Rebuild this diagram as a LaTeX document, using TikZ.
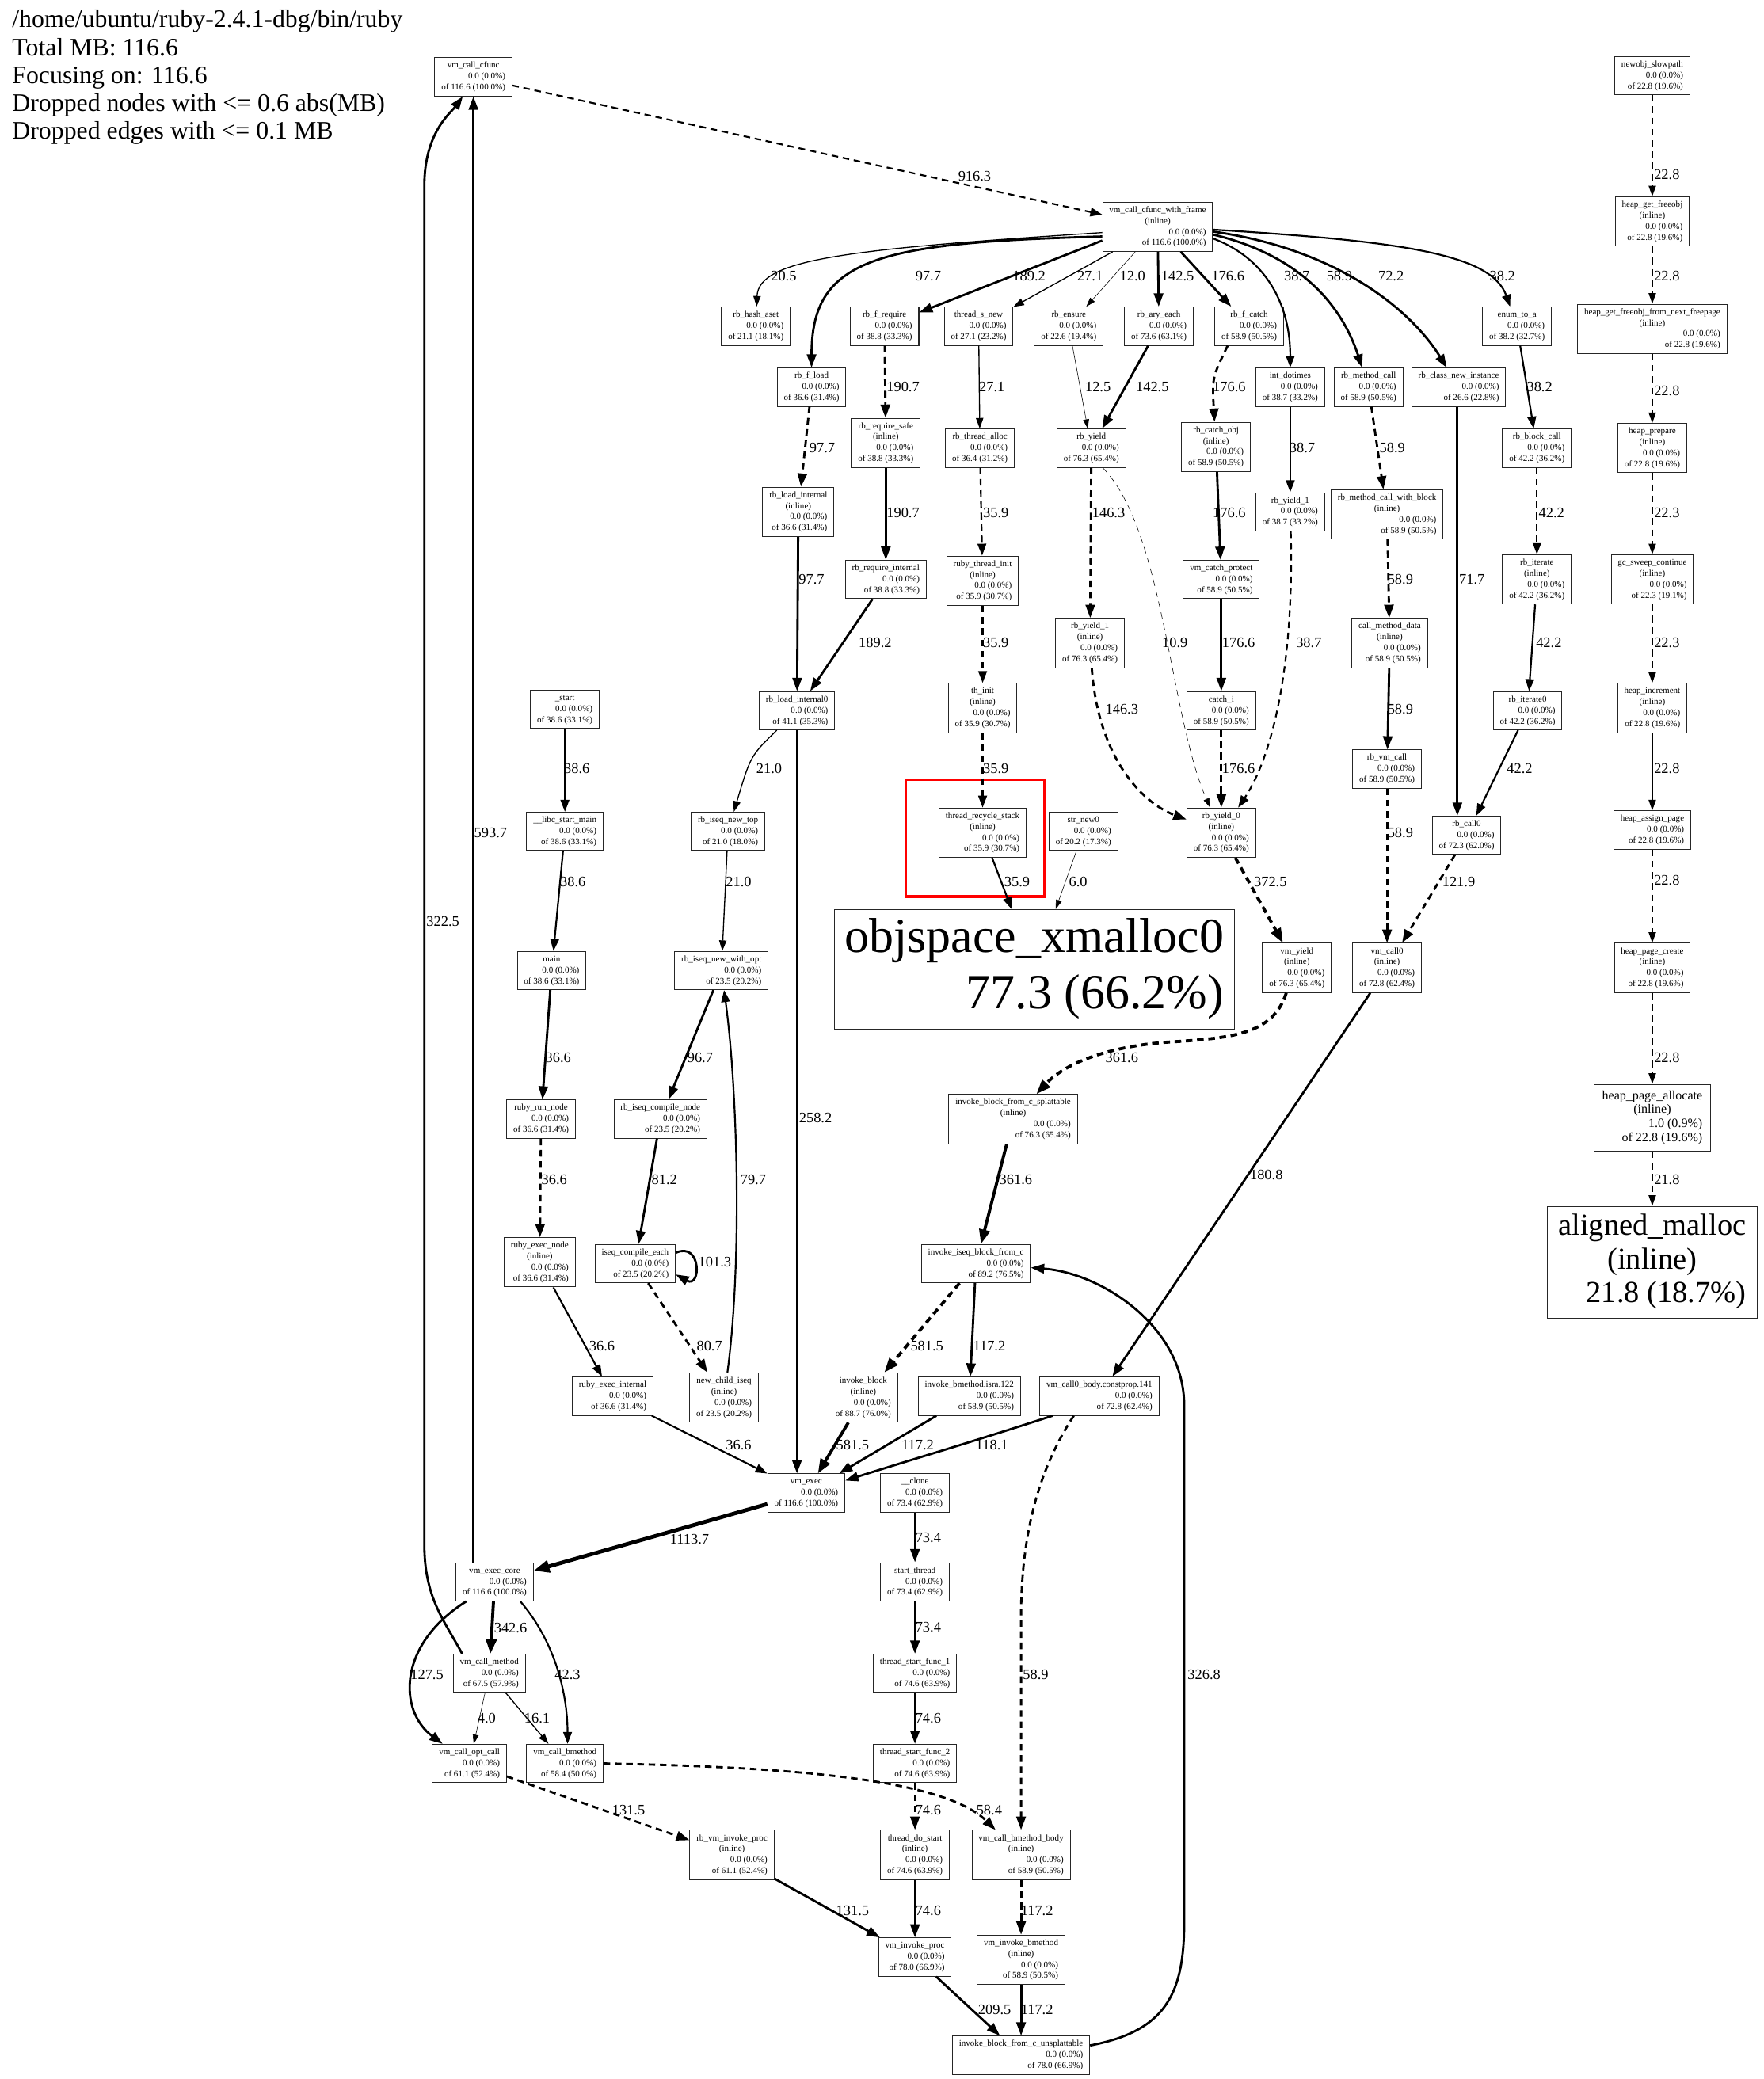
\documentclass[tikz,border=0pt]{standalone}
\usepackage{fontspec}
\setmainfont{Liberation Serif}
\usetikzlibrary{arrows.meta,calc}
\newcommand{\ppn}[2]{\begin{tabular}{@{}r@{}}\multicolumn{1}{@{}c@{}}{#1}\\0.0 (0.0\%)\\#2\end{tabular}}
\newcommand{\ppi}[2]{\begin{tabular}{@{}r@{}}\multicolumn{1}{@{}c@{}}{#1}\\\multicolumn{1}{@{}c@{}}{(inline)}\\0.0 (0.0\%)\\#2\end{tabular}}
\begin{document}
\begin{tikzpicture}[x=1pt,y=-1pt,
 fn/.style={draw=black!85, line width=0.6pt, inner xsep=5pt, inner ysep=2pt, font=\fontsize{6.6}{8.3}\selectfont},
 lb/.style={font=\fontsize{11}{12}\selectfont, inner sep=0pt},
 e0/.style={line width=0.35pt, -{Triangle[length=7pt,width=4.5pt]}},
 e1/.style={line width=0.8pt, -{Triangle[length=8pt,width=5.5pt]}},
 e2/.style={line width=1.3pt, -{Triangle[length=9pt,width=6.5pt]}},
 e3/.style={line width=1.7pt, -{Triangle[length=10pt,width=7pt]}},
 e4/.style={line width=2.3pt, -{Triangle[length=11pt,width=8pt]}},
 dsh/.style={dash pattern=on 5pt off 3.5pt}]
\fill[white] (0,0) rectangle (1330,1568);
\useasboundingbox (0,0) rectangle (1330,1568);

\node[anchor=north west, align=left, inner sep=0pt, font=\fontsize{19}{21}\selectfont] (hdr) at (9,7.5) {/home/ubuntu/ruby-2.4.1-dbg/bin/ruby\\Total MB: 116.6\\Focusing on: 116.6\\Dropped nodes with <= 0.6 abs(MB)\\Dropped edges with <= 0.1 MB};

% nodes
\node[fn] (cfunc) at (357,58) {\ppn{vm\_call\_cfunc}{of 116.6 (100.0\%)}};
\node[fn] (newobj) at (1246,57) {\ppn{newobj\_slowpath}{of 22.8 (19.6\%)}};
\node[fn] (vcwf) at (873,171) {\ppi{vm\_call\_cfunc\_with\_frame}{of 116.6 (100.0\%)}};
\node[fn] (hgf) at (1246,167) {\ppi{heap\_get\_freeobj}{of 22.8 (19.6\%)}};
\node[fn] (hash) at (570,246) {\ppn{rb\_hash\_aset}{of 21.1 (18.1\%)}};
\node[fn] (freq) at (667,246) {\ppn{rb\_f\_require}{of 38.8 (33.3\%)}};
\node[fn] (tsnew) at (738,246) {\ppn{thread\_s\_new}{of 27.1 (23.2\%)}};
\node[fn] (ensure) at (806,246) {\ppn{rb\_ensure}{of 22.6 (19.4\%)}};
\node[fn] (aryeach) at (874,246) {\ppn{rb\_ary\_each}{of 73.6 (63.1\%)}};
\node[fn] (fcatch) at (942,246) {\ppn{rb\_f\_catch}{of 58.9 (50.5\%)}};
\node[fn] (enumtoa) at (1144,246) {\ppn{enum\_to\_a}{of 38.2 (32.7\%)}};
\node[fn] (hgfnf) at (1246,248) {\ppi{heap\_get\_freeobj\_from\_next\_freepage}{of 22.8 (19.6\%)}};
\node[fn] (fload) at (612,292) {\ppn{rb\_f\_load}{of 36.6 (31.4\%)}};
\node[fn] (dotimes) at (973,292) {\ppn{int\_dotimes}{of 38.7 (33.2\%)}};
\node[fn] (mcall) at (1032,292) {\ppn{rb\_method\_call}{of 58.9 (50.5\%)}};
\node[fn] (classnew) at (1100,292) {\ppn{rb\_class\_new\_instance}{of 26.6 (22.8\%)}};
\node[fn] (reqsafe) at (668,334) {\ppi{rb\_require\_safe}{of 38.8 (33.3\%)}};
\node[fn] (talloc) at (739,338) {\ppn{rb\_thread\_alloc}{of 36.4 (31.2\%)}};
\node[fn] (yield) at (823,338) {\ppn{rb\_yield}{of 76.3 (65.4\%)}};
\node[fn] (catchobj) at (917,337) {\ppi{rb\_catch\_obj}{of 58.9 (50.5\%)}};
\node[fn] (blockcall) at (1159,338) {\ppn{rb\_block\_call}{of 42.2 (36.2\%)}};
\node[fn] (hprep) at (1246,338) {\ppi{heap\_prepare}{of 22.8 (19.6\%)}};
\node[fn] (loadint) at (602,386) {\ppi{rb\_load\_internal}{of 36.6 (31.4\%)}};
\node[fn] (yield1a) at (973,386) {\ppn{rb\_yield\_1}{of 38.7 (33.2\%)}};
\node[fn] (mcwb) at (1046,388) {\ppi{rb\_method\_call\_with\_block}{of 58.9 (50.5\%)}};
\node[fn] (reqint) at (668,437) {\ppn{rb\_require\_internal}{of 38.8 (33.3\%)}};
\node[fn] (tinit) at (741,438) {\ppi{ruby\_thread\_init}{of 35.9 (30.7\%)}};
\node[fn] (catchprot) at (921,437) {\ppn{vm\_catch\_protect}{of 58.9 (50.5\%)}};
\node[fn] (iterate) at (1159,437) {\ppi{rb\_iterate}{of 42.2 (36.2\%)}};
\node[fn] (gcsweep) at (1246,437) {\ppi{gc\_sweep\_continue}{of 22.3 (19.1\%)}};
\node[fn] (yield1b) at (822,485) {\ppi{rb\_yield\_1}{of 76.3 (65.4\%)}};
\node[fn] (cmd) at (1048,485) {\ppi{call\_method\_data}{of 58.9 (50.5\%)}};
\node[fn] (hinc) at (1246,534) {\ppi{heap\_increment}{of 22.8 (19.6\%)}};
\node[fn] (start) at (426,535) {\ppn{\_start}{of 38.6 (33.1\%)}};
\node[fn] (loadint0) at (601,536) {\ppn{rb\_load\_internal0}{of 41.1 (35.3\%)}};
\node[fn] (thinit) at (741,534) {\ppi{th\_init}{of 35.9 (30.7\%)}};
\node[fn] (catchi) at (921,536) {\ppn{catch\_i}{of 58.9 (50.5\%)}};
\node[fn] (iterate0) at (1152,536) {\ppn{rb\_iterate0}{of 42.2 (36.2\%)}};
\node[fn] (vmcall) at (1046,580) {\ppn{rb\_vm\_call}{of 58.9 (50.5\%)}};
\node[fn] (libc) at (426,627) {\ppn{\_\_libc\_start\_main}{of 38.6 (33.1\%)}};
\node[fn] (newtop) at (549,627) {\ppn{rb\_iseq\_new\_top}{of 21.0 (18.0\%)}};
\node[fn] (trs) at (741,628) {\ppi{thread\_recycle\_stack}{of 35.9 (30.7\%)}};
\node[fn] (strnew) at (817,627) {\ppn{str\_new0}{of 20.2 (17.3\%)}};
\node[fn] (yield0) at (921,628) {\ppi{rb\_yield\_0}{of 76.3 (65.4\%)}};
\node[fn] (call0) at (1106,630) {\ppn{rb\_call0}{of 72.3 (62.0\%)}};
\node[fn] (hassign) at (1246,626) {\ppn{heap\_assign\_page}{of 22.8 (19.6\%)}};
\node[draw=red, line width=2.2pt, minimum width=105pt, minimum height=88pt, inner sep=0pt] (hl) at (735.5,632) {};
\node[draw=black!85, line width=0.6pt, inner xsep=8pt, inner ysep=3pt, font=\fontsize{37}{42}\selectfont] (xmalloc) at (780,731) {\begin{tabular}{@{}r@{}}\multicolumn{1}{@{}c@{}}{objspace\_xmalloc0}\\77.3 (66.2\%)\end{tabular}};
\node[fn] (main) at (416,732) {\ppn{main}{of 38.6 (33.1\%)}};
\node[fn] (newopt) at (544,732) {\ppn{rb\_iseq\_new\_with\_opt}{of 23.5 (20.2\%)}};
\node[fn] (vmyield) at (978,730) {\ppi{vm\_yield}{of 76.3 (65.4\%)}};
\node[fn] (vmcall0) at (1046,730) {\ppi{vm\_call0}{of 72.8 (62.4\%)}};
\node[fn] (hpcreate) at (1246,730) {\ppi{heap\_page\_create}{of 22.8 (19.6\%)}};
\node[draw=black!85, line width=0.6pt, inner xsep=6pt, inner ysep=4pt, font=\fontsize{9.6}{10.6}\selectfont] (hpalloc) at (1246,843) {\begin{tabular}{@{}r@{}}\multicolumn{1}{@{}c@{}}{heap\_page\_allocate}\\\multicolumn{1}{@{}c@{}}{(inline)}\\1.0 (0.9\%)\\of 22.8 (19.6\%)\end{tabular}};
\node[fn] (runnode) at (408,844) {\ppn{ruby\_run\_node}{of 36.6 (31.4\%)}};
\node[fn] (compnode) at (498,844) {\ppn{rb\_iseq\_compile\_node}{of 23.5 (20.2\%)}};
\node[fn] (ibsplat) at (764,844) {\ppi{invoke\_block\_from\_c\_splattable}{of 76.3 (65.4\%)}};
\node[draw=black!85, line width=0.6pt, inner xsep=8pt, inner ysep=4pt, font=\fontsize{23}{25.5}\selectfont] (amalloc) at (1246,952) {\begin{tabular}{@{}r@{}}\multicolumn{1}{@{}c@{}}{aligned\_malloc}\\\multicolumn{1}{@{}c@{}}{(inline)}\\21.8 (18.7\%)\end{tabular}};
\node[fn] (execnode) at (407,952) {\ppi{ruby\_exec\_node}{of 36.6 (31.4\%)}};
\node[fn] (compeach) at (479,953) {\ppn{iseq\_compile\_each}{of 23.5 (20.2\%)}};
\node[fn] (iibfc) at (736,953) {\ppn{invoke\_iseq\_block\_from\_c}{of 89.2 (76.5\%)}};
\node[fn] (execint) at (462,1053) {\ppn{ruby\_exec\_internal}{of 36.6 (31.4\%)}};
\node[fn] (childiseq) at (546,1054) {\ppi{new\_child\_iseq}{of 23.5 (20.2\%)}};
\node[fn] (invblock) at (651,1054) {\ppi{invoke\_block}{of 88.7 (76.0\%)}};
\node[fn] (invbm) at (731,1053) {\ppn{invoke\_bmethod.isra.122}{of 58.9 (50.5\%)}};
\node[fn] (vmc0body) at (829,1053) {\ppn{vm\_call0\_body.constprop.141}{of 72.8 (62.4\%)}};
\node[fn] (vmexec) at (608,1126) {\ppn{vm\_exec}{of 116.6 (100.0\%)}};
\node[fn] (clone) at (690,1126) {\ppn{\_\_clone}{of 73.4 (62.9\%)}};
\node[fn] (execcore) at (373,1193) {\ppn{vm\_exec\_core}{of 116.6 (100.0\%)}};
\node[fn] (startthr) at (690,1193) {\ppn{start\_thread}{of 73.4 (62.9\%)}};
\node[fn] (callmeth) at (369,1262) {\ppn{vm\_call\_method}{of 67.5 (57.9\%)}};
\node[fn] (tsf1) at (690,1262) {\ppn{thread\_start\_func\_1}{of 74.6 (63.9\%)}};
\node[fn] (optcall) at (354,1330) {\ppn{vm\_call\_opt\_call}{of 61.1 (52.4\%)}};
\node[fn] (callbm) at (426,1330) {\ppn{vm\_call\_bmethod}{of 58.4 (50.0\%)}};
\node[fn] (tsf2) at (690,1330) {\ppn{thread\_start\_func\_2}{of 74.6 (63.9\%)}};
\node[fn] (vminvproc) at (552,1399) {\ppi{rb\_vm\_invoke\_proc}{of 61.1 (52.4\%)}};
\node[fn] (tdostart) at (690,1399) {\ppi{thread\_do\_start}{of 74.6 (63.9\%)}};
\node[fn] (cbmbody) at (770,1399) {\ppi{vm\_call\_bmethod\_body}{of 58.9 (50.5\%)}};
\node[fn] (vminvbm) at (770,1478) {\ppi{vm\_invoke\_bmethod}{of 58.9 (50.5\%)}};
\node[fn] (invproc) at (690,1476) {\ppn{vm\_invoke\_proc}{of 78.0 (66.9\%)}};
\node[fn] (ibunsplat) at (770,1550) {\ppn{invoke\_block\_from\_c\_unsplattable}{of 78.0 (66.9\%)}};

% edges: top
\draw[e2,dsh] (cfunc) -- (vcwf);
\draw[e1] (vcwf.186) .. controls (640,188) and (572,195) .. (hash);
\draw[e3] (vcwf.190) .. controls (660,183) and (612,195) .. (fload);
\draw[e3] (vcwf.194) -- (freq);
\draw[e1] (vcwf) -- (tsnew);
\draw[e0] (vcwf) -- (ensure);
\draw[e3] (vcwf) -- (aryeach);
\draw[e3] (vcwf) -- (fcatch);
\draw[e2] (vcwf.-12) .. controls (955,195) and (973,230) .. (dotimes);
\draw[e3] (vcwf.-8) .. controls (990,195) and (1015,240) .. (mcall);
\draw[e3] (vcwf.-5) .. controls (1010,188) and (1065,235) .. (classnew);
\draw[e2] (vcwf.-3) .. controls (1060,182) and (1125,192) .. (enumtoa);
% heap column
\draw[e1,dsh] (newobj) -- (hgf);
\draw[e1,dsh] (hgf) -- (hgfnf);
\draw[e1,dsh] (hgfnf) -- (hprep);
\draw[e1,dsh] (hprep) -- (gcsweep);
\draw[e1,dsh] (gcsweep) -- (hinc);
\draw[e1] (hinc) -- (hassign);
\draw[e1,dsh] (hassign) -- (hpcreate);
\draw[e1,dsh] (hpcreate) -- (hpalloc);
\draw[e1,dsh] (hpalloc) -- (amalloc);
% second level
\draw[e3,dsh] (freq) -- (reqsafe);
\draw[e1] (tsnew) -- (talloc);
\draw[e0] (ensure) -- (yield);
\draw[e3] (aryeach) -- (yield);
\draw[e3,dsh] ([xshift=10pt]fcatch.south west) .. controls (914,285) .. (catchobj);
\draw[e2] (dotimes) -- (yield1a);
\draw[e3,dsh] (mcall) -- (mcwb);
\draw[e3] ([xshift=-1pt]classnew.south) .. controls (1099,400) and (1099,560) .. ([xshift=-7pt]call0.north);
\draw[e2] (enumtoa) -- (blockcall);
\draw[e3,dsh] (fload) -- (loadint);
\draw[e3] (reqsafe) -- (reqint);
\draw[e2,dsh] (talloc) -- (tinit);
\draw[e3,dsh] (yield) -- (yield1b);
\draw[e0,dsh] (yield.-60) .. controls (878,400) and (882,540) .. (yield0);
\draw[e3] (catchobj) -- (catchprot);
\draw[e2,dsh] (yield1a) .. controls (976,500) and (960,570) .. (yield0);
\draw[e3,dsh] (mcwb) -- (cmd);
\draw[e2,dsh] (blockcall) -- (iterate);
\draw[e3] (loadint) -- (loadint0);
\draw[e3] (reqint) -- (loadint0);
\draw[e2,dsh] (tinit) -- (thinit);
\draw[e3,dsh] (yield1b) .. controls (828,570) and (860,605) .. (yield0);
\draw[e3] (catchprot) -- (catchi);
\draw[e3] (cmd) -- (vmcall);
\draw[e2] (iterate) -- (iterate0);
\draw[e2] (start) -- (libc);
\draw[e1] (loadint0) .. controls (566,570) .. (newtop);
\draw[e3] (loadint0.south) -- (loadint0.south |- vmexec.north);
\draw[e2,dsh] (thinit) -- (trs);
\draw[e3,dsh] (catchi) -- (yield0);
\draw[e3,dsh] (vmcall) -- (vmcall0);
\draw[e2] (iterate0) -- (call0);
\draw[e2] (libc) -- (main);
\draw[e1] (newtop) -- (newopt);
\draw[e2] (trs) -- (xmalloc);
\draw[e0] (strnew) -- (xmalloc);
\draw[e4,dsh] (yield0) -- (vmyield);
\draw[e3,dsh] (call0) -- (vmcall0);
\draw[e3] (main) -- (runnode);
\draw[e3] (newopt) -- (compnode);
\draw[e4,dsh] ([xshift=-8pt]vmyield.south) .. controls (960,780) and (930,783) .. (880,786) .. controls (840,789) and (805,800) .. (ibsplat);
\draw[e3] (vmcall0) -- (vmc0body);
\draw[e3,dsh] (runnode) -- (execnode);
\draw[e3] (compnode) -- (compeach);
\draw[e4] (ibsplat) -- (iibfc);
\draw[e3] (compeach.15) .. controls (529,936) and (529,972) .. (compeach.-15);
\draw[e2] (childiseq) .. controls (560,950) and (556,820) .. (newopt);
\draw[e2] (execnode) -- (execint);
\draw[e3,dsh] (compeach) -- (childiseq);
\draw[e4,dsh] (iibfc) -- (invblock);
\draw[e3] (iibfc) -- (invbm);
\draw[e2] (execint) -- (vmexec);
\draw[e4] (invblock) -- (vmexec);
\draw[e3] (invbm) -- (vmexec);
\draw[e3] ([xshift=10pt]vmc0body.south west) .. controls (725,1090) and (690,1100) .. (vmexec);
\draw[e3,dsh] ([xshift=26pt]vmc0body.south west) .. controls (782,1110) and (770,1160) .. (770,1220) -- (cbmbody);
\draw[e3] (ibunsplat.8) .. controls (878,1532) and (893,1505) .. (893,1450) -- (893,1060) .. controls (893,1000) and (830,960) .. (iibfc);
% bottom
\draw[line width=2.9pt, -{Triangle[length=12pt,width=9pt]}] (vmexec) -- (execcore);
\draw[e3] (clone) -- (startthr);
\draw[e3] (execcore.north -| cfunc.south) -- (cfunc.south);
\draw[e3] ([xshift=7pt]callmeth.north west) .. controls (335,1222) and (320,1205) .. (320,1165) -- (320,140) .. controls (320,100) and (340,85) .. ([xshift=-8pt]cfunc.south);
\draw[e4] (execcore) -- (callmeth);
\draw[e3] ([xshift=8pt]execcore.south west) .. controls (300,1240) and (300,1290) .. ([xshift=8pt]optcall.north west);
\draw[e2] ([xshift=-10pt]execcore.south east) .. controls (420,1240) and (428,1280) .. ([xshift=2pt]callbm.north);
\draw[e3] (startthr) -- (tsf1);
\draw[e0] (callmeth) -- (optcall);
\draw[e1] (callmeth) -- (callbm);
\draw[e3] (tsf1) -- (tsf2);
\draw[e3,dsh] (optcall) -- (vminvproc);
\draw[e3,dsh] (callbm.east) .. controls (620,1333) and (715,1345) .. (cbmbody);
\draw[e3,dsh] (tsf2) -- (tdostart);
\draw[e3] (vminvproc) -- (invproc);
\draw[e3] (tdostart) -- (invproc);
\draw[e3,dsh] (cbmbody) -- (vminvbm);
\draw[e3] (invproc) -- (ibunsplat);
\draw[e3] (vminvbm) -- (ibunsplat);

% labels
\node[lb] (l01) at (735,133) {916.3};
\node[lb] (l02) at (591,208) {20.5};
\node[lb] (l03) at (700,208) {97.7};
\node[lb] (l04) at (776,208) {189.2};
\node[lb] (l05) at (822,208) {27.1};
\node[lb] (l06) at (854,208) {12.0};
\node[lb] (l07) at (888,208) {142.5};
\node[lb] (l08) at (926,208) {176.6};
\node[lb] (l09) at (978,208) {38.7};
\node[lb] (l10) at (1010,208) {58.9};
\node[lb] (l11) at (1049,208) {72.2};
\node[lb] (l12) at (1133,208) {38.2};
\node[lb] (l13) at (1257,132) {22.8};
\node[lb] (l14) at (1257,208) {22.8};
\node[lb] (l15) at (1257,295) {22.8};
\node[lb] (l16) at (681,292) {190.7};
\node[lb] (l17) at (748,292) {27.1};
\node[lb] (l18) at (828,292) {12.5};
\node[lb] (l19) at (869,292) {142.5};
\node[lb] (l20) at (927,292) {176.6};
\node[lb] (l21) at (982,338) {38.7};
\node[lb] (l22) at (1050,338) {58.9};
\node[lb] (l23) at (1161,292) {38.2};
\node[lb] (l24) at (1110,437) {71.7};
\node[lb] (l25) at (1257,387) {22.3};
\node[lb] (l26) at (620,338) {97.7};
\node[lb] (l27) at (681,387) {190.7};
\node[lb] (l28) at (751,387) {35.9};
\node[lb] (l29) at (836,387) {146.3};
\node[lb] (l30) at (927,387) {176.6};
\node[lb] (l31) at (987,485) {38.7};
\node[lb] (l32) at (1056,437) {58.9};
\node[lb] (l33) at (1170,387) {42.2};
\node[lb] (l34) at (1257,485) {22.3};
\node[lb] (l35) at (612,437) {97.7};
\node[lb] (l36) at (660,485) {189.2};
\node[lb] (l37) at (751,485) {35.9};
\node[lb] (l38) at (886,485) {10.9};
\node[lb] (l39) at (846,535) {146.3};
\node[lb] (l40) at (934,485) {176.6};
\node[lb] (l41) at (1056,535) {58.9};
\node[lb] (l42) at (1168,485) {42.2};
\node[lb] (l43) at (1257,580) {22.8};
\node[lb] (l44) at (435,580) {38.6};
\node[lb] (l45) at (580,580) {21.0};
\node[lb] (l46) at (615,843) {258.2};
\node[lb] (l47) at (751,580) {35.9};
\node[lb] (l48) at (934,580) {176.6};
\node[lb] (l49) at (1056,628) {58.9};
\node[lb] (l50) at (1146,580) {42.2};
\node[lb] (l51) at (1257,664) {22.8};
\node[lb] (l52) at (432,665) {38.6};
\node[lb] (l53) at (557,665) {21.0};
\node[lb] (l54) at (767,665) {35.9};
\node[lb] (l55) at (813,665) {6.0};
\node[lb] (l56) at (958,665) {372.5};
\node[lb] (l57) at (1100,665) {121.9};
\node[lb] (l58) at (1257,798) {22.8};
\node[lb] (l59) at (421,798) {36.6};
\node[lb] (l60) at (528,798) {96.7};
\node[lb] (l61) at (846,798) {361.6};
\node[lb] (l62) at (955,886) {180.8};
\node[lb] (l63) at (1257,890) {21.8};
\node[lb] (l64) at (418,890) {36.6};
\node[lb] (l65) at (501,890) {81.2};
\node[lb] (l66) at (766,890) {361.6};
\node[lb] (l67) at (539,952) {101.3};
\node[lb] (l68) at (568,890) {79.7};
\node[lb] (l69) at (454,1015) {36.6};
\node[lb] (l70) at (535,1015) {80.7};
\node[lb] (l71) at (699,1015) {581.5};
\node[lb] (l72) at (746,1015) {117.2};
\node[lb] (l73) at (557,1090) {36.6};
\node[lb] (l74) at (643,1090) {581.5};
\node[lb] (l75) at (692,1090) {117.2};
\node[lb] (l76) at (748,1090) {118.1};
\node[lb] (l77) at (781,1263) {58.9};
\node[lb] (l78) at (908,1263) {326.8};
\node[lb] (l79) at (520,1161) {1113.7};
\node[lb] (l80) at (700,1160) {73.4};
\node[lb] (l81) at (370,628) {593.7};
\node[lb] (l82) at (334,695) {322.5};
\node[lb] (l83) at (385,1228) {342.6};
\node[lb] (l84) at (322,1263) {127.5};
\node[lb] (l85) at (428,1263) {42.3};
\node[lb] (l86) at (700,1227) {73.4};
\node[lb] (l87) at (367,1296) {4.0};
\node[lb] (l88) at (405,1296) {16.1};
\node[lb] (l89) at (700,1296) {74.6};
\node[lb] (l90) at (474,1365) {131.5};
\node[lb] (l91) at (746,1365) {58.4};
\node[lb] (l92) at (700,1365) {74.6};
\node[lb] (l93) at (643,1441) {131.5};
\node[lb] (l94) at (700,1441) {74.6};
\node[lb] (l95) at (782,1441) {117.2};
\node[lb] (l96) at (750,1516) {209.5};
\node[lb] (l97) at (782,1516) {117.2};
\end{tikzpicture}
\end{document}
